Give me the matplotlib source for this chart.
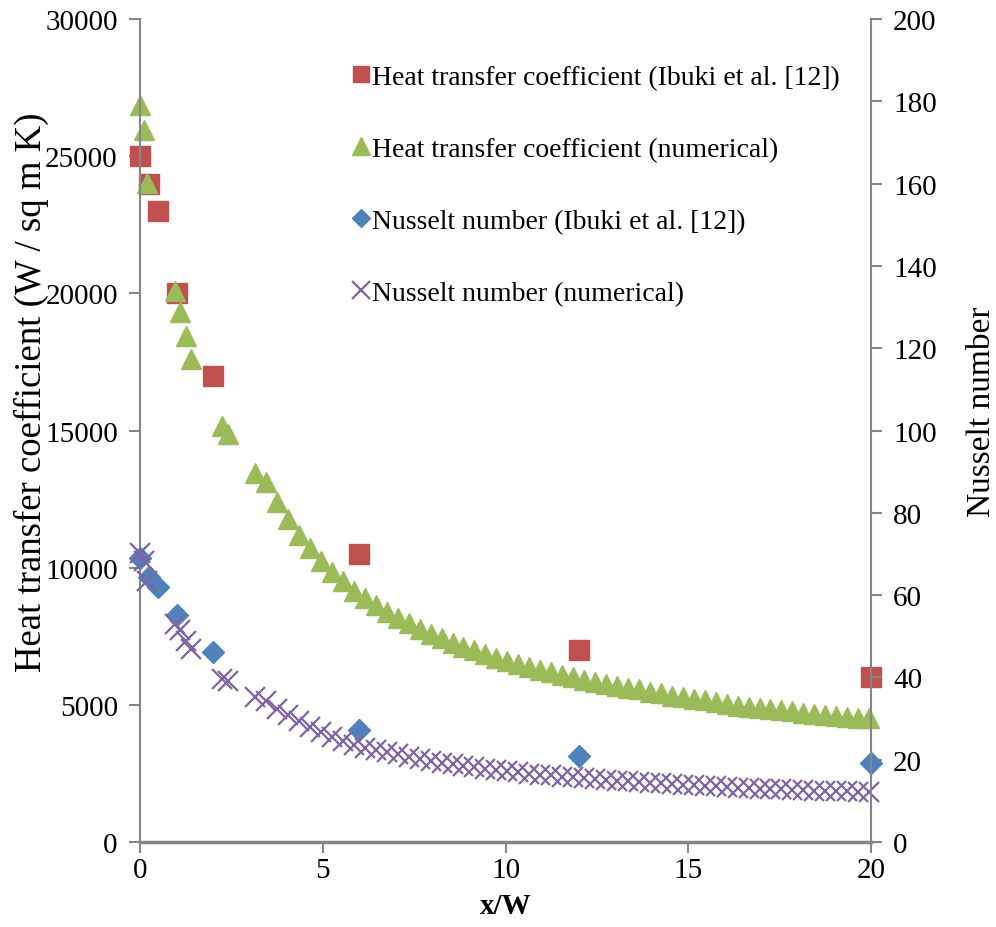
import matplotlib
matplotlib.use("Agg")
import matplotlib.pyplot as plt

plt.rcParams['font.family'] = ['Liberation Serif', 'DejaVu Serif']

# Experimental data (Ibuki et al. [12])
x_exp = [0, 0.25, 0.5, 1, 2, 6, 12, 20]
h_exp = [25000, 24000, 23000, 20000, 17000, 10500, 7000, 6000]
nu_exp = [69.0, 64.4, 62.0, 55.2, 46.2, 27.2, 21.0, 19.2]

# Numerical results
x_num = [0, 0.1, 0.2, 0.95, 1.1, 1.25, 1.4, 2.25, 2.4,
         3.15, 3.45, 3.75, 4.05, 4.35, 4.65, 4.95, 5.25, 5.55, 5.85,
         6.15, 6.45, 6.75, 7.05, 7.35, 7.65, 7.95, 8.25, 8.55, 8.85,
         9.15, 9.45, 9.75, 10.05, 10.35, 10.65, 10.95, 11.25, 11.55, 11.85,
         12.15, 12.45, 12.75, 13.05, 13.35, 13.65, 13.95, 14.25, 14.55, 14.85,
         15.15, 15.45, 15.75, 16.05, 16.35, 16.65, 16.95, 17.25, 17.55, 17.85,
         18.15, 18.45, 18.75, 19.05, 19.35, 19.65, 19.95]
h_num = [26870, 25970, 24030, 20100, 19320, 18460, 17610, 15150, 14860,
         13440, 13120, 12380, 11790, 11190, 10700, 10250, 9850, 9510, 9160,
         8880, 8640, 8390, 8175, 7970, 7775, 7590, 7425, 7265, 7120,
         6985, 6855, 6715, 6605, 6490, 6380, 6270, 6185, 6090, 6015,
         5920, 5820, 5750, 5675, 5620, 5560, 5475, 5415, 5340, 5270,
         5220, 5160, 5110, 5040, 4975, 4925, 4890, 4850, 4795, 4760,
         4710, 4665, 4615, 4575, 4550, 4525, 4505]
nu_num = [70.3, 68.4, 63.5, 53.0, 51.4, 48.9, 46.9, 39.6, 39.2,
          35.2, 34.3, 32.3, 30.8, 29.4, 28.0, 26.8, 25.6, 24.6, 23.6,
          22.8, 22.3, 21.8, 21.3, 20.7, 20.2, 19.7, 19.3, 18.9, 18.5,
          18.2, 17.8, 17.5, 17.2, 16.9, 16.6, 16.4, 16.2, 15.9, 15.7,
          15.5, 15.3, 15.1, 14.9, 14.75, 14.6, 14.4, 14.25, 14.1, 13.95,
          13.8, 13.65, 13.5, 13.35, 13.2, 13.1, 13.0, 12.9, 12.8, 12.7,
          12.6, 12.5, 12.4, 12.35, 12.3, 12.25, 12.2]

labels = ['Heat transfer coefficient (Ibuki et al. [12])',
          'Heat transfer coefficient (numerical)',
          'Nusselt number (Ibuki et al. [12])',
          'Nusselt number (numerical)']

red = '#C0504D'
green = '#9BBB59'
blue = '#4F81BD'
purple = '#8064A2'
gray = '#868686'
fs = 21

fig = plt.figure(figsize=(9.96, 9.28), dpi=100)
ax = fig.add_axes([0.1406, 0.0916, 0.7339, 0.8868])
ax2 = ax.twinx()

s1, = ax.plot(x_exp, h_exp, 's', color=red, ms=14, mec=red, ls='none',
              clip_on=False)
s2, = ax.plot(x_num, h_num, '^', color=green, ms=15, mec=green, ls='none',
              clip_on=False)
s3, = ax2.plot(x_exp, nu_exp, 'D', color=blue, ms=11, mec=blue, ls='none',
               clip_on=False)
s4, = ax2.plot(x_num, nu_num, 'x', color=purple, ms=15, mew=1.6, ls='none',
               clip_on=False)

ax.set_xlim(0, 20)
ax.set_ylim(0, 30000)
ax2.set_ylim(0, 200)
ax.set_xticks([0, 5, 10, 15, 20])
ax.set_yticks(range(0, 30001, 5000))
ax2.set_yticks(range(0, 201, 20))

for a in (ax, ax2):
    a.spines['top'].set_visible(False)
    for side in ('left', 'right', 'bottom'):
        a.spines[side].set_color(gray)
        a.spines[side].set_linewidth(1.5)
    a.tick_params(direction='out', length=8, width=1.5, color=gray,
                  labelsize=fs, pad=8)
ax.tick_params(axis='x', pad=3)
ax.spines['right'].set_visible(False)
ax2.spines['left'].set_visible(False)
ax2.spines['bottom'].set_visible(False)
ax.spines['bottom'].set_linewidth(2.5)

ax.set_xlabel('x/W', fontsize=fs, fontweight='bold', labelpad=6)
ax.set_ylabel('Heat transfer coefficient (W / sq m K)', fontsize=26.5)
ax.yaxis.set_label_coords(-0.125, 0.548)
ax2.set_ylabel('Nusselt number', fontsize=24)
ax2.yaxis.set_label_coords(1.130, 0.524)

ax2.legend([s1, s2, s3, s4], labels, loc='upper left',
           bbox_to_anchor=(0.272, 0.958), frameon=False, fontsize=20,
           handlelength=0.8, handletextpad=0.0, labelspacing=1.67,
           borderaxespad=0, markerscale=0.85)

fig.savefig('out.png', dpi=100)
